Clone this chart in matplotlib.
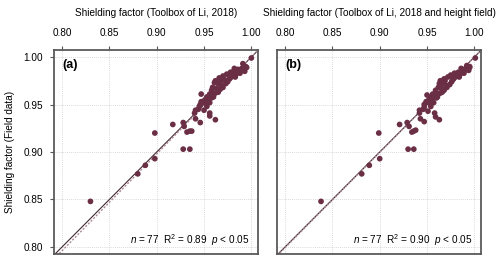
import matplotlib
matplotlib.use("Agg")
import matplotlib.pyplot as plt

plt.rcParams['font.family'] = ['Liberation Sans', 'DejaVu Sans']
plt.rcParams['mathtext.fontset'] = 'custom'
plt.rcParams['mathtext.rm'] = 'Liberation Sans'
plt.rcParams['mathtext.it'] = 'Liberation Sans:italic'

# panel (a): Toolbox of Li, 2018
x_a = [0.830, 0.880, 0.888, 0.898, 0.898, 0.928, 0.935, 0.917, 0.928, 0.929,
       0.932, 0.935, 0.937, 0.941, 0.946, 0.956, 0.956, 0.962, 0.940, 0.941,
       0.944, 0.950, 0.946, 0.949, 0.952, 0.956, 0.945, 0.947, 0.951, 0.952,
       0.953, 0.947, 0.956, 0.959, 0.958, 0.959, 0.963, 0.961, 0.965, 0.968,
       0.966, 0.970, 0.972, 0.982, 0.980, 0.984, 0.987, 0.990, 0.993, 0.995,
       0.991, 1.000, 0.955, 0.958, 0.962, 0.965, 0.967, 0.970, 0.973, 0.975,
       0.977, 0.979, 0.981, 0.983, 0.985, 0.988, 0.986, 0.989, 0.992, 0.994,
       0.962, 0.968, 0.974, 0.976, 0.978, 0.953, 0.960]
y_a = [0.848, 0.877, 0.886, 0.893, 0.920, 0.903, 0.903, 0.929, 0.931, 0.927,
       0.921, 0.922, 0.922, 0.935, 0.931, 0.941, 0.938, 0.934, 0.941, 0.944,
       0.945, 0.944, 0.950, 0.953, 0.953, 0.952, 0.948, 0.953, 0.955, 0.951,
       0.958, 0.961, 0.961, 0.961, 0.965, 0.968, 0.967, 0.973, 0.972, 0.970,
       0.978, 0.980, 0.976, 0.988, 0.984, 0.982, 0.986, 0.988, 0.985, 0.989,
       0.993, 0.999, 0.956, 0.957, 0.962, 0.963, 0.966, 0.968, 0.972, 0.974,
       0.977, 0.979, 0.980, 0.979, 0.984, 0.983, 0.987, 0.986, 0.989, 0.990,
       0.975, 0.975, 0.982, 0.981, 0.984, 0.948, 0.958]

# panel (b): Toolbox of Li, 2018 and height field
x_b = [0.838, 0.881, 0.889, 0.900, 0.899, 0.930, 0.936, 0.921, 0.929, 0.931,
       0.934, 0.936, 0.938, 0.943, 0.947, 0.958, 0.959, 0.963, 0.942, 0.942,
       0.946, 0.951, 0.947, 0.950, 0.953, 0.957, 0.947, 0.949, 0.952, 0.953,
       0.954, 0.950, 0.956, 0.961, 0.959, 0.962, 0.965, 0.963, 0.967, 0.970,
       0.968, 0.972, 0.977, 0.986, 0.983, 0.985, 0.988, 0.991, 0.994, 0.995,
       0.992, 1.001, 0.956, 0.960, 0.964, 0.966, 0.968, 0.971, 0.974, 0.976,
       0.978, 0.980, 0.982, 0.984, 0.986, 0.989, 0.987, 0.990, 0.993, 0.995,
       0.964, 0.969, 0.975, 0.977, 0.979, 0.954, 0.961]
y_b = [0.848, 0.877, 0.886, 0.893, 0.920, 0.903, 0.903, 0.929, 0.931, 0.927,
       0.921, 0.922, 0.923, 0.935, 0.932, 0.941, 0.937, 0.934, 0.941, 0.944,
       0.945, 0.943, 0.950, 0.953, 0.953, 0.952, 0.947, 0.953, 0.955, 0.951,
       0.958, 0.960, 0.961, 0.961, 0.965, 0.968, 0.967, 0.972, 0.972, 0.970,
       0.977, 0.979, 0.976, 0.988, 0.984, 0.982, 0.986, 0.988, 0.986, 0.989,
       0.991, 0.999, 0.956, 0.957, 0.962, 0.963, 0.965, 0.968, 0.971, 0.974,
       0.977, 0.979, 0.980, 0.979, 0.984, 0.983, 0.987, 0.986, 0.989, 0.990,
       0.975, 0.975, 0.981, 0.980, 0.983, 0.948, 0.958]

# regression (slope, intercept) and stats
fit_a = (1.02, -0.02)
fit_b = (1.004, -0.004)
stats_a = (77, 0.89)
stats_b = (77, 0.90)

ticks = [0.80, 0.85, 0.90, 0.95, 1.00]
xlabels = ['Shielding factor (Toolbox of Li, 2018)',
           'Shielding factor (Toolbox of Li, 2018 and height field)']

FS = 7.2
DOT = '#6b2f45'

fig = plt.figure(figsize=(5.0, 2.59), dpi=100)
ax_a = fig.add_axes([0.108, 0.0193, 0.408, 0.7876])
ax_b = fig.add_axes([0.554, 0.0193, 0.408, 0.7876])

panels = [(ax_a, x_a, y_a, fit_a, stats_a, '(a)', xlabels[0]),
          (ax_b, x_b, y_b, fit_b, stats_b, '(b)', xlabels[1])]

for i, (ax, xs, ys, fit, st, tag, xl) in enumerate(panels):
    lo, hi = 0.7915, 1.007
    ax.set_xlim(lo, hi)
    ax.set_ylim(0.7926, 1.0074)
    ax.grid(True, linestyle=(0, (1, 1.5)), color='#cccccc', linewidth=0.6)
    ax.set_axisbelow(True)

    # 1:1 line and fitted line
    ax.plot([lo, hi], [lo, hi], color='#3f2a32', linewidth=0.8, zorder=2)
    ax.plot([lo, hi], [fit[0] * lo + fit[1], fit[0] * hi + fit[1]],
            color='#b08a96', linewidth=1.0, linestyle=(0, (1.5, 1.2)), zorder=2)

    ax.scatter(xs, ys, s=17, color=DOT, edgecolors='none', zorder=3)

    ax.set_xticks(ticks)
    ax.set_yticks(ticks)
    ax.xaxis.tick_top()
    ax.xaxis.set_label_position('top')
    ax.set_xticklabels([f'{t:.2f}' for t in ticks])
    ax.tick_params(axis='x', direction='out', length=3, width=0.8,
                   color='#555555', labelsize=FS, pad=6)
    if i == 0:
        ax.set_yticklabels([f'{t:.2f}' for t in ticks])
        ax.tick_params(axis='y', direction='out', length=3, width=0.8,
                       color='#555555', labelsize=FS, pad=5)
        ax.set_ylabel('Shielding factor (Field data)', fontsize=FS, labelpad=6)
    else:
        ax.tick_params(axis='y', length=0, labelleft=False)
    ax.set_xlabel(xl, fontsize=FS, labelpad=8)

    for sp in ax.spines.values():
        sp.set_color('#5a5a5a')
        sp.set_linewidth(1.3)

    ax.text(0.04, 0.925, tag, transform=ax.transAxes, fontsize=9,
            fontweight='bold', ha='left', va='center')
    ax.text(0.96, 0.07,
            r'$\it{n}$ = %d  R$^2$ = %.2f  $\it{p}$ < 0.05' % st,
            transform=ax.transAxes, fontsize=FS, ha='right', va='center')

fig.savefig('out.png', dpi=100)
